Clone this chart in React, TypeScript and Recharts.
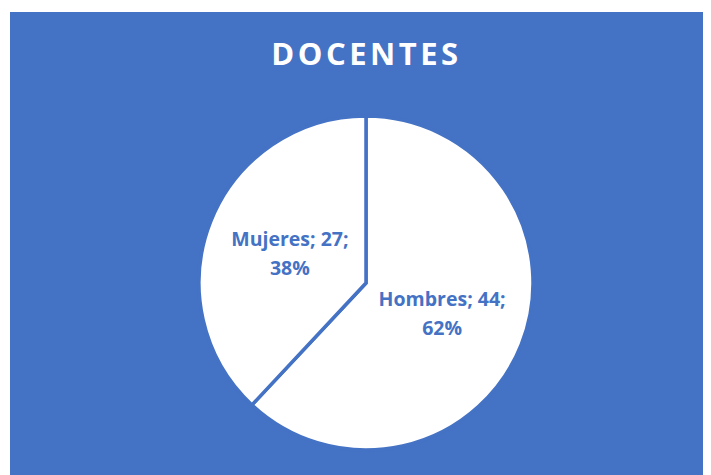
import React from "react";
import { PieChart, Pie, Cell } from "recharts";

const categories = ["Hombres", "Mujeres"];
const counts = [44, 27];

const BLUE = "#4472C4";
const FONT = "'Open Sans', Lato, sans-serif";

const data = categories.map((name, i) => ({ name, value: counts[i] }));
const total = counts.reduce((a, b) => a + b, 0);

const RADIAN = Math.PI / 180;

const renderLabel = (props: any) => {
  const { cx, cy, midAngle, outerRadius, name, value } = props;
  const r = outerRadius * 0.49;
  const x = cx + r * Math.cos(-midAngle * RADIAN);
  const y = cy + r * Math.sin(-midAngle * RADIAN);
  const pct = Math.round((value / total) * 100);
  return (
    <text
      x={x}
      y={y}
      fill={BLUE}
      textAnchor="middle"
      fontFamily={FONT}
      fontWeight="bold"
      fontSize={19.5}
    >
      <tspan x={x} dy={-7}>{`${name}; ${value};`}</tspan>
      <tspan x={x} dy={29}>{`${pct}%`}</tspan>
    </text>
  );
};

export default function App() {
  return (
    <div
      style={{
        marginLeft: 2,
        marginTop: 4,
        width: 701,
        height: 463,
        background: BLUE,
        position: "relative",
      }}
    >
      <div
        style={{
          position: "absolute",
          top: 20,
          left: 0,
          width: 701,
          textAlign: "center",
          color: "#fff",
          fontFamily: FONT,
          fontWeight: "bold",
          fontSize: 31,
          letterSpacing: 3.5,
          paddingLeft: 12,
          boxSizing: "border-box",
        }}
      >
        DOCENTES
      </div>
      <PieChart width={701} height={463} style={{ position: "absolute", top: 0, left: 0 }}>
        <Pie
          data={data}
          dataKey="value"
          nameKey="name"
          cx={351}
          cy={266}
          outerRadius={167}
          startAngle={90}
          endAngle={-270}
          stroke={BLUE}
          strokeWidth={3.5}
          label={renderLabel}
          labelLine={false}
          isAnimationActive={false}
        >
          {data.map((entry, index) => (
            <Cell key={`cell-${index}`} fill="#FFFFFF" />
          ))}
        </Pie>
      </PieChart>
    </div>
  );
}
